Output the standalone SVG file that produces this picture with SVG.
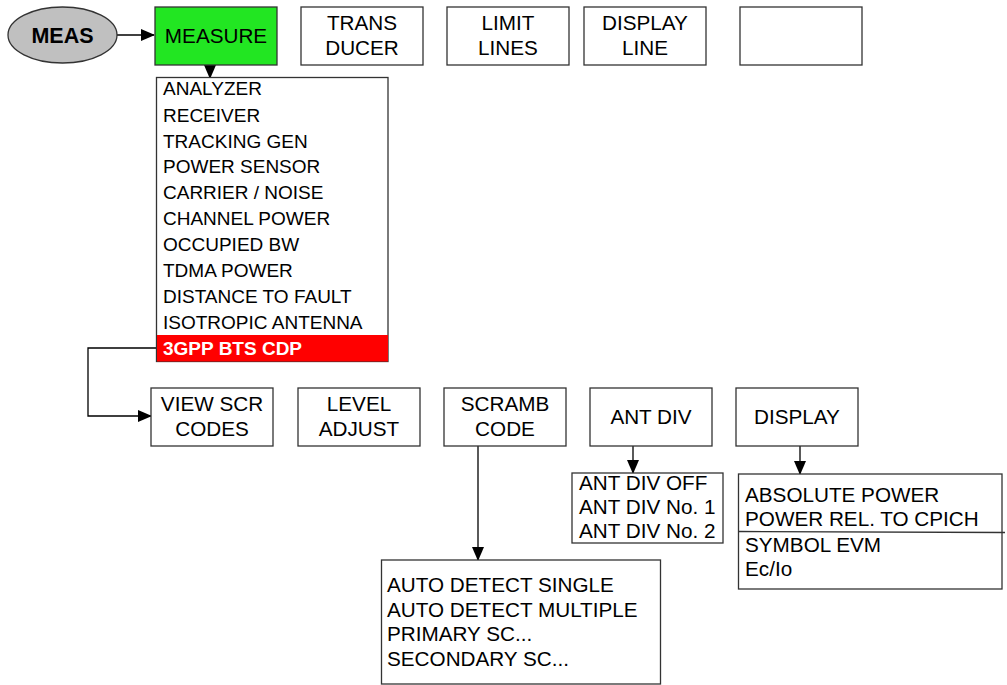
<svg xmlns="http://www.w3.org/2000/svg" width="1007" height="685" viewBox="0 0 1007 685">
<style>
text{font-family:"Liberation Sans",Arial,sans-serif;font-size:20.7px;fill:#000}
.c{text-anchor:middle}
.m{font-size:19px}
.box{fill:#fff;stroke:#333;stroke-width:1.3}
.ln{fill:none;stroke:#000;stroke-width:1.3}
</style>
<defs>
<marker id="ah" markerWidth="14" markerHeight="12" refX="13" refY="6" orient="auto" markerUnits="userSpaceOnUse">
<path d="M0,0 L14,6 L0,12 Z" fill="#000"/>
</marker>
</defs>
<rect width="1007" height="685" fill="#fff"/>
<g id="connectors">
<path class="ln" d="M117,35 H154" marker-end="url(#ah)"/>
<path class="ln" d="M210,65 V78" marker-end="url(#ah)"/>
<path class="ln" d="M157,348 H88 V416 H151" marker-end="url(#ah)"/>
<path class="ln" d="M633,446 V473" marker-end="url(#ah)"/>
<path class="ln" d="M800,446 V474" marker-end="url(#ah)"/>
<path class="ln" d="M478,446 V560" marker-end="url(#ah)"/>
</g>
<g id="meas">
<ellipse cx="62.5" cy="35" rx="54.5" ry="28" fill="#c0c0c0" stroke="#333" stroke-width="1.3"/>
<text x="62.5" y="42.5" class="c" font-weight="bold" style="font-size:21.5px">MEAS</text>
</g>
<g id="measure">
<rect x="155" y="7" width="122" height="58" fill="#22e622" stroke="#333" stroke-width="1.3"/>
<text x="216" y="42.5" class="c">MEASURE</text>
</g>
<g id="transducer">
<rect class="box" x="301" y="7" width="122" height="58"/>
<text x="362" y="29.5" class="c">TRANS</text>
<text x="362" y="54.5" class="c">DUCER</text>
</g>
<g id="limitlines">
<rect class="box" x="447" y="7" width="122" height="58"/>
<text x="508" y="29.5" class="c">LIMIT</text>
<text x="508" y="54.5" class="c">LINES</text>
</g>
<g id="displayline">
<rect class="box" x="584" y="7" width="122" height="58"/>
<text x="645" y="29.5" class="c">DISPLAY</text>
<text x="645" y="54.5" class="c">LINE</text>
</g>
<g id="empty">
<rect class="box" x="740" y="7" width="122" height="58"/>
</g>
<g id="measlist">
<rect class="box" x="156.5" y="77.5" width="231.5" height="284"/>
<rect x="157" y="335" width="231" height="26.5" fill="#ff0000"/>
<text class="m" x="163" y="95">ANALYZER</text>
<text class="m" x="163" y="121.5">RECEIVER</text>
<text class="m" x="163" y="147.5">TRACKING GEN</text>
<text class="m" x="163" y="173">POWER SENSOR</text>
<text class="m" x="163" y="199">CARRIER / NOISE</text>
<text class="m" x="163" y="225">CHANNEL POWER</text>
<text class="m" x="163" y="251">OCCUPIED BW</text>
<text class="m" x="163" y="277">TDMA POWER</text>
<text class="m" x="163" y="303">DISTANCE TO FAULT</text>
<text class="m" x="163" y="329">ISOTROPIC ANTENNA</text>
<text class="m" x="163" y="354.5" font-weight="bold" style="fill:#fff">3GPP BTS CDP</text>
</g>
<g id="viewscr">
<rect class="box" x="151" y="388" width="122" height="58"/>
<text x="212" y="410.5" class="c">VIEW SCR</text>
<text x="212" y="435.5" class="c">CODES</text>
</g>
<g id="leveladjust">
<rect class="box" x="298" y="388" width="122" height="58"/>
<text x="359" y="410.5" class="c">LEVEL</text>
<text x="359" y="435.5" class="c">ADJUST</text>
</g>
<g id="scrambcode">
<rect class="box" x="444" y="388" width="122" height="58"/>
<text x="505" y="410.5" class="c">SCRAMB</text>
<text x="505" y="435.5" class="c">CODE</text>
</g>
<g id="antdiv">
<rect class="box" x="590" y="388" width="122" height="58"/>
<text x="651" y="423.5" class="c">ANT DIV</text>
</g>
<g id="display">
<rect class="box" x="736" y="388" width="122" height="58"/>
<text x="797" y="423.5" class="c">DISPLAY</text>
</g>
<g id="antdivlist">
<rect class="box" x="572" y="473" width="151" height="70"/>
<text x="579" y="490">ANT DIV OFF</text>
<text x="579" y="514">ANT DIV No. 1</text>
<text x="579" y="538">ANT DIV No. 2</text>
</g>
<g id="displaylist">
<rect class="box" x="738.5" y="474" width="263.5" height="115"/>
<path d="M738.5,531.5 L1005,532.5" stroke="#333" stroke-width="1.3"/>
<text x="745" y="501.5">ABSOLUTE POWER</text>
<text x="745" y="525.5">POWER REL. TO CPICH</text>
<text x="745" y="551.5">SYMBOL EVM</text>
<text x="745" y="575.5">Ec/Io</text>
</g>
<g id="scramblist">
<rect class="box" x="381.5" y="560" width="279" height="124"/>
<text x="387" y="591.5">AUTO DETECT SINGLE</text>
<text x="387" y="616.5">AUTO DETECT MULTIPLE</text>
<text x="387" y="640.5">PRIMARY SC...</text>
<text x="387" y="665.5">SECONDARY SC...</text>
</g>
</svg>
